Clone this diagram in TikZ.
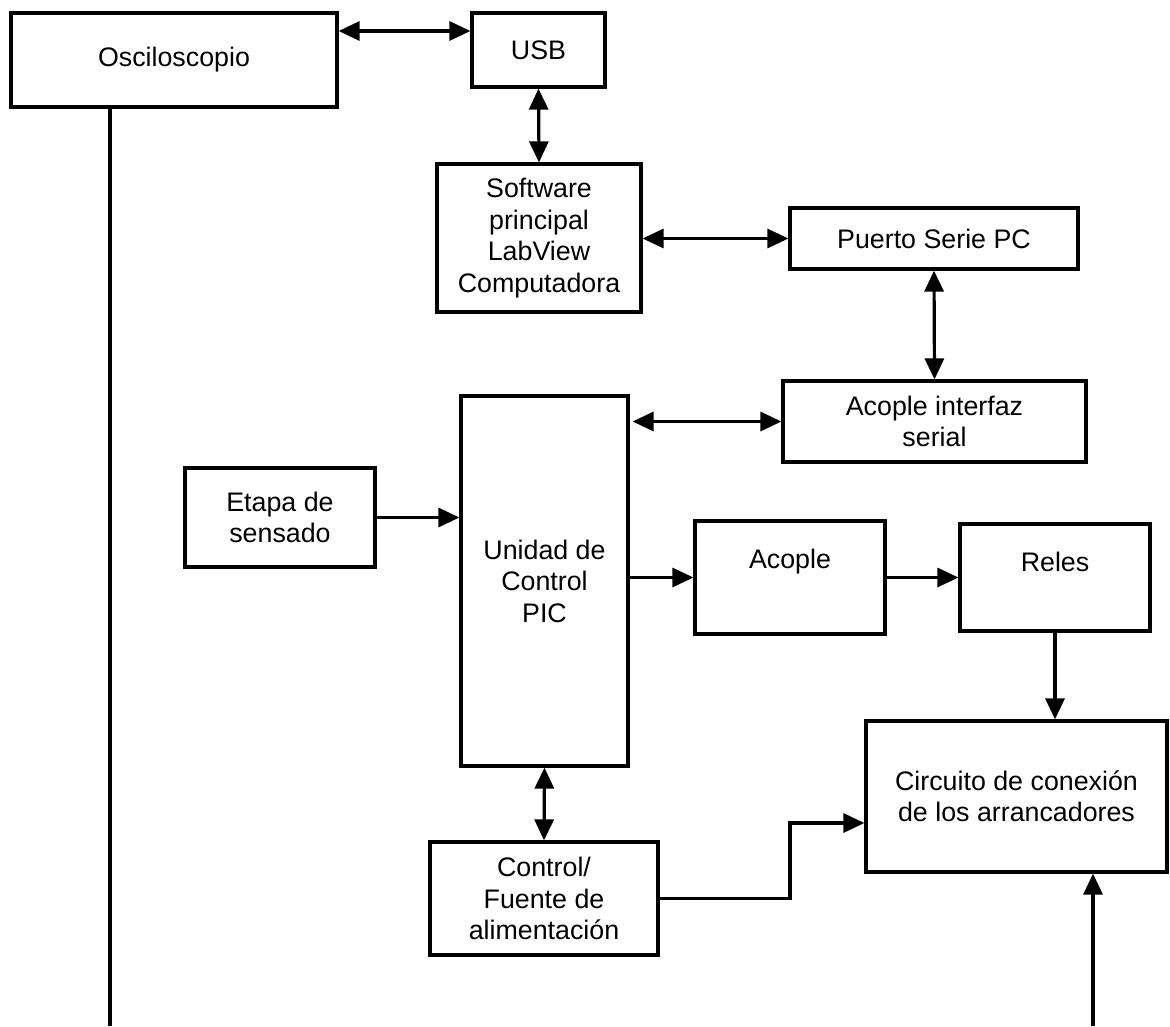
\documentclass[tikz,border=0pt]{standalone}
\usepackage{fontspec}
\setmainfont{Liberation Sans}
\usetikzlibrary{arrows.meta}
\begin{document}
\begin{tikzpicture}[x=1pt,y=-1pt,
  every node/.style={font=\fontsize{26.8}{31.5}\selectfont},
  blk/.style={draw,line width=3.2pt,rectangle,inner sep=0pt,align=center},
  txt/.style={inner sep=0pt,align=center},
  wire/.style={line width=3.2pt},
  tip/.style={wire,-{Triangle[length=21pt,width=19pt]}},
  both/.style={wire,{Triangle[length=21pt,width=19pt]}-{Triangle[length=21pt,width=19pt]}}]
\useasboundingbox (0,0) rectangle (1170,1026);

% blocks
\node[blk,minimum width=326pt,minimum height=94pt] (osc) at (174,60) {Osciloscopio};
\node[blk,minimum width=133pt,minimum height=74pt] (usb) at (538.5,50) {USB};
\node[blk,minimum width=204pt,minimum height=148pt] (sw) at (539,238) {Software\\principal\\LabView\\Computadora};
\node[blk,minimum width=288pt,minimum height=61pt] (puerto) at (934,238.5) {Puerto Serie PC};
\node[blk,minimum width=303pt,minimum height=81pt] (acint) at (934.5,421.5) {Acople interfaz\\serial};
\node[blk,minimum width=190pt,minimum height=99pt] (etapa) at (280,517.5) {Etapa de\\sensado};
\node[blk,minimum width=167pt,minimum height=370pt] (pic) at (544.5,581) {Unidad de\\Control\\PIC};
\node[blk,minimum width=190pt,minimum height=113pt] (acople) at (790,577.5) {};
\node[txt] (acopleT) at (790,562) {Acople};
\node[blk,minimum width=190pt,minimum height=107pt] (reles) at (1055,577.5) {};
\node[txt] (relesT) at (1055,562) {Reles};
\node[blk,minimum width=301pt,minimum height=151pt] (circ) at (1016.5,796.5) {Circuito de conexión\\de los arrancadores};
\node[blk,minimum width=228pt,minimum height=113pt] (ctrl) at (544,898.5) {Control/\\Fuente de\\alimentación};

% helper points
\coordinate (yOU) at (0,31);
\coordinate (bend) at (790,823);
\coordinate (inB) at (1093,1026);
\coordinate (oscEnd) at (110,1026);

% connectors
\draw[both] (osc.east |- yOU) -- (usb.west |- yOU);
\draw[both] (usb.south) -- (sw.north);
\draw[both] (sw.east |- puerto.west) -- (puerto.west);
\draw[both] (puerto.south) -- (acint.north);
\draw[both] ([xshift=3pt]pic.east |- acint.west) -- (acint.west);
\draw[tip] (etapa.east) -- (pic.west |- etapa.east);
\draw[tip] (pic.east |- acople.west) -- (acople.west);
\draw[tip] (acople.east) -- (reles.west);
\draw[tip] (reles.south) -- (reles.south |- circ.north);
\draw[both] (pic.south) -- (ctrl.north);
\draw[tip] (ctrl.east) -| (bend) -- (circ.west |- bend);
\draw[tip] (inB) -- (inB |- circ.south);
\draw[wire] (osc.south -| oscEnd) -- (oscEnd);
\end{tikzpicture}
\end{document}
